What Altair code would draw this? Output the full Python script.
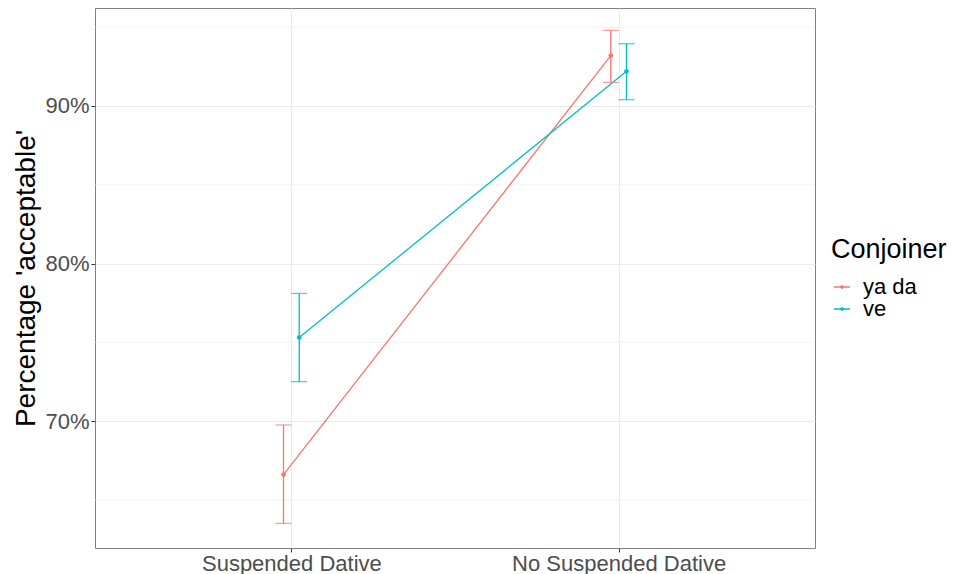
import altair as alt
import pandas as pd

conditions = ["Suspended Dative", "No Suspended Dative"]
conjoiners = ["ya da", "ve"]
colors = ["#F8766D", "#00BFC4"]

mean_yada = [66.6, 93.2]
lower_yada = [63.5, 91.5]
upper_yada = [69.75, 94.8]

mean_ve = [75.3, 92.2]
lower_ve = [72.5, 90.4]
upper_ve = [78.1, 93.95]

major_breaks = [70, 80, 90]
minor_breaks = [65, 75, 85, 95]

rows = []
for i, cond in enumerate(conditions):
    rows.append(dict(condition=cond, idx=i + 1, conjoiner="ya da",
                     mean=mean_yada[i], lo=lower_yada[i], hi=upper_yada[i]))
    rows.append(dict(condition=cond, idx=i + 1, conjoiner="ve",
                     mean=mean_ve[i], lo=lower_ve[i], hi=upper_ve[i]))
df = pd.DataFrame(rows)

FONT = "Liberation Sans"
ysc = alt.Scale(domain=[61.94, 96.22], nice=False, zero=False)
xsc = alt.Scale(domain=[0.4, 2.6], nice=False, zero=False)
csc = alt.Scale(domain=conjoiners, range=colors)

label_expr = f"datum.value == 1 ? '{conditions[0]}' : '{conditions[1]}'"

x_axis = alt.Axis(values=[1, 2], labelExpr=label_expr, title=None, grid=True,
                  gridColor="#EBEBEB", gridWidth=1, domain=False, tickColor="#333333",
                  tickSize=4, labelFontSize=22, labelColor="#4D4D4D", labelFont=FONT,
                  labelPadding=1, labelLimit=500)
y_axis = alt.Axis(values=major_breaks, labelExpr="datum.value + '%'",
                  title="Percentage 'acceptable'", grid=True, gridColor="#EBEBEB",
                  gridWidth=1, domain=False, tickColor="#333333", tickSize=4,
                  labelFontSize=22, labelColor="#4D4D4D", labelFont=FONT, labelPadding=2,
                  titleFontSize=28, titleFontWeight="normal", titleColor="black",
                  titleFont=FONT, titlePadding=4)

symbol_path = "M-1,0H1M-0.15,0A0.15,0.15 0 1,0 0.15,0A0.15,0.15 0 1,0 -0.15,0Z"
leg = alt.Legend(
    title="Conjoiner", orient="none", legendX=736, legendY=229,
    titleFontSize=27, titleFontWeight="normal", titleColor="black", titleFont=FONT,
    titlePadding=12, titleLimit=300, labelFontSize=22, labelColor="black", labelFont=FONT,
    symbolType=symbol_path, symbolSize=256, symbolStrokeWidth=1.3, symbolOpacity=1,
    labelOffset=10, rowPadding=0, padding=0, offset=0, labelLimit=300,
)
color = alt.Color("conjoiner:N", scale=csc, legend=leg)

base = alt.Chart(df).transform_calculate(
    xpos="datum.idx + (datum.conjoiner == 'ya da' ? -0.024 : 0.024)"
)

minor = alt.Chart(pd.DataFrame({"mean": minor_breaks})).mark_rule(
    color="#EBEBEB", strokeWidth=0.6
).encode(y=alt.Y("mean:Q", scale=ysc, axis=y_axis))

lines = base.mark_line(strokeWidth=1.3).encode(
    x=alt.X("xpos:Q", scale=xsc, axis=x_axis),
    y=alt.Y("mean:Q", scale=ysc, axis=y_axis),
    color=color,
    detail="conjoiner:N",
)

bars = base.mark_rule(strokeWidth=1.3).encode(
    x=alt.X("xpos:Q", scale=xsc, axis=x_axis),
    y=alt.Y("lo:Q", scale=ysc, axis=y_axis),
    y2="hi:Q",
    color=color,
)

caps = base.transform_fold(["lo", "hi"], as_=["end", "val"]).mark_tick(
    orient="horizontal", size=16, thickness=1.3
).encode(
    x=alt.X("xpos:Q", scale=xsc, axis=x_axis),
    y=alt.Y("val:Q", scale=ysc, axis=y_axis),
    color=color,
)

points = base.mark_point(filled=True, size=22, opacity=1).encode(
    x=alt.X("xpos:Q", scale=xsc, axis=x_axis),
    y=alt.Y("mean:Q", scale=ysc, axis=y_axis),
    color=color,
)

chart = alt.layer(minor, lines, bars, caps, points).properties(
    width=720, height=540,
    autosize=alt.AutoSizeParams(type="none"),
    padding={"left": 87, "top": 0, "right": 132, "bottom": 26},
).configure_view(stroke="#808080", strokeWidth=1)

chart.save("out.html", embed_options={"renderer": "svg", "actions": False})
